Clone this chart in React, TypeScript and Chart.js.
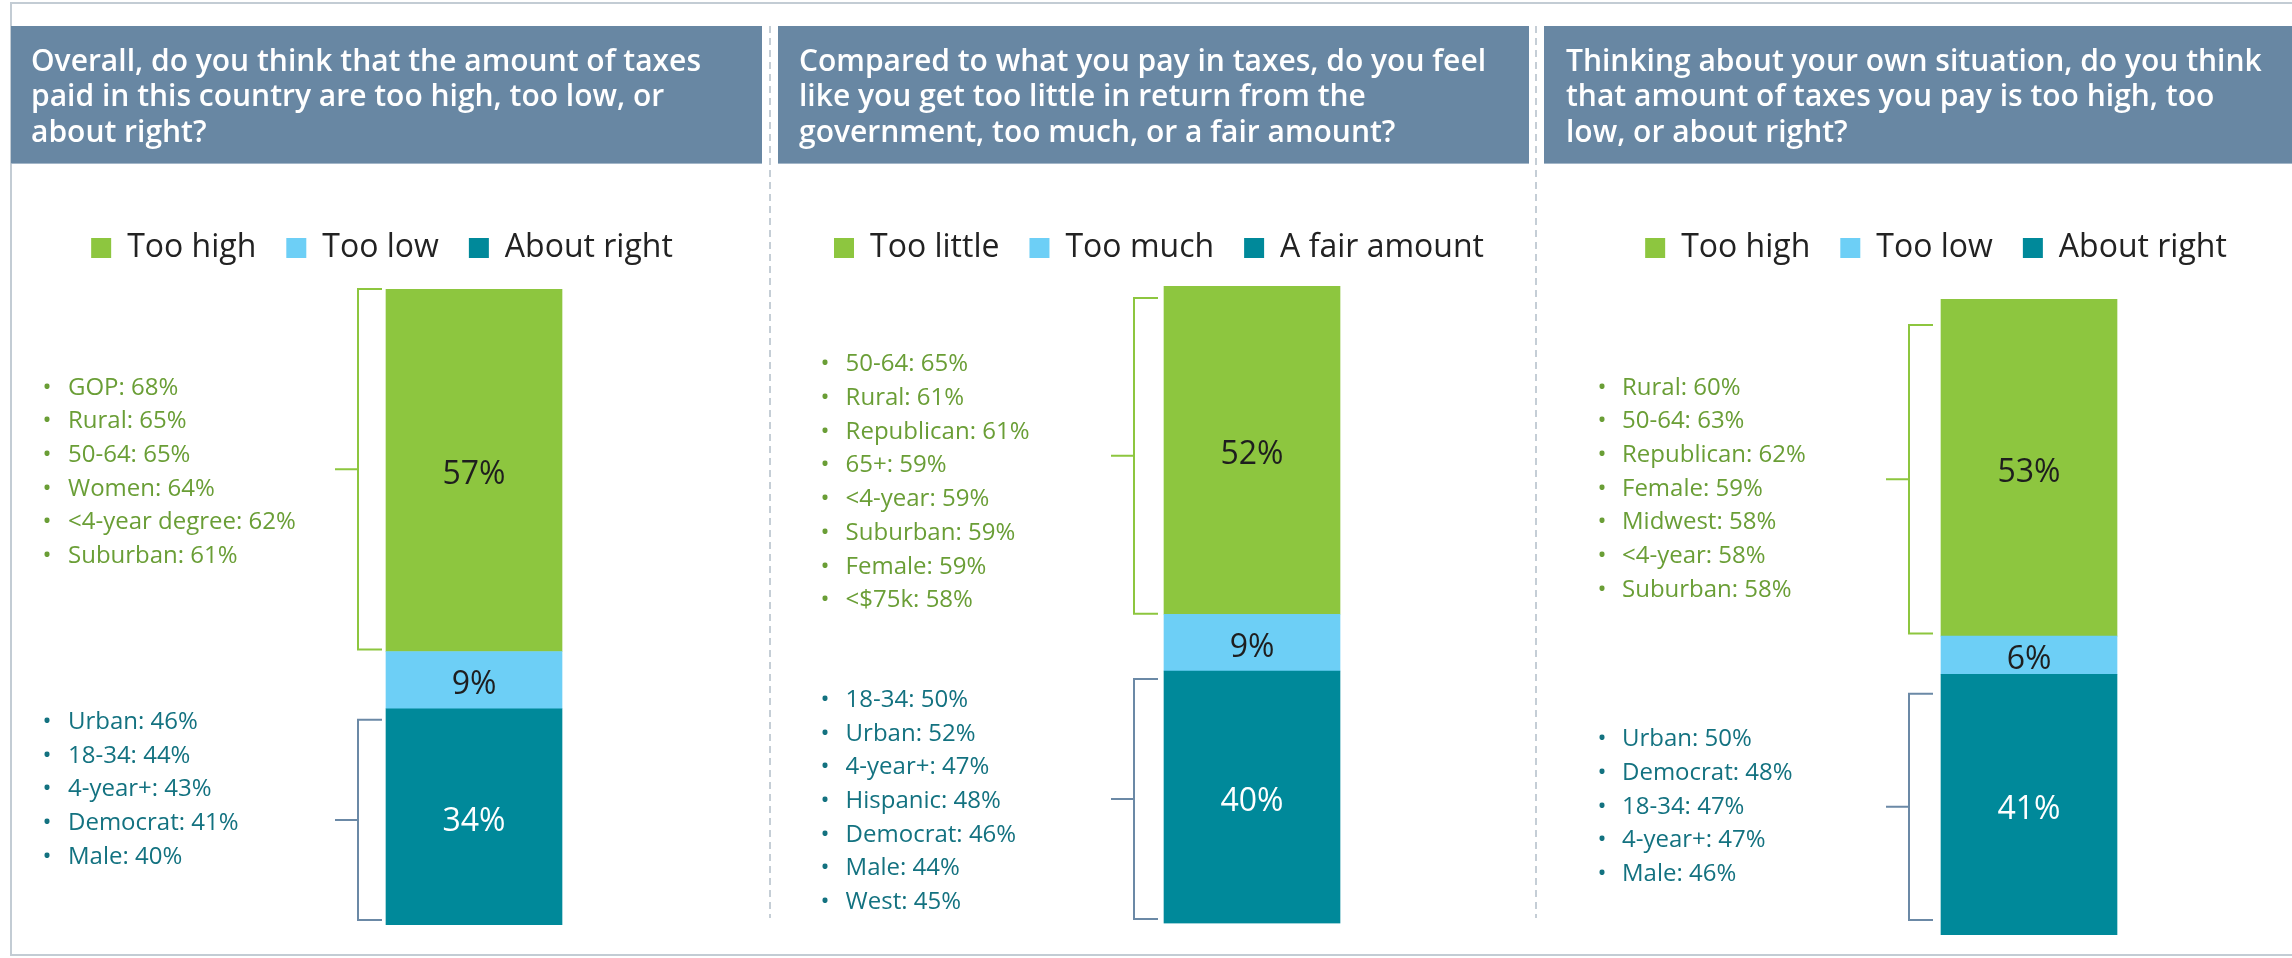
import React, { useEffect, useRef } from "react";
import { Chart, registerables } from "chart.js";

Chart.register(...registerables);

const FONT = "'Open Sans', 'Noto Sans', sans-serif";

// ---------------- Data ----------------
const question1 = [
  "Overall, do you think that the amount of taxes",
  "paid in this country are too high, too low, or",
  "about right?",
];
const series1 = ["Too high", "Too low", "About right"];
const values1 = [57, 9, 34];
const topGroups1 = ["GOP: 68%", "Rural: 65%", "50-64: 65%", "Women: 64%", "<4-year degree: 62%", "Suburban: 61%"];
const bottomGroups1 = ["Urban: 46%", "18-34: 44%", "4-year+: 43%", "Democrat: 41%", "Male: 40%"];

const question2 = [
  "Compared to what you pay in taxes, do you feel",
  "like you get too little in return from the",
  "government, too much, or a fair amount?",
];
const series2 = ["Too little", "Too much", "A fair amount"];
const values2 = [52, 9, 40];
const topGroups2 = ["50-64: 65%", "Rural: 61%", "Republican: 61%", "65+: 59%", "<4-year: 59%", "Suburban: 59%", "Female: 59%", "<$75k: 58%"];
const bottomGroups2 = ["18-34: 50%", "Urban: 52%", "4-year+: 47%", "Hispanic: 48%", "Democrat: 46%", "Male: 44%", "West: 45%"];

const question3 = [
  "Thinking about your own situation, do you think",
  "that amount of taxes you pay is too high, too",
  "low, or about right?",
];
const series3 = ["Too high", "Too low", "About right"];
const values3 = [53, 6, 41];
const topGroups3 = ["Rural: 60%", "50-64: 63%", "Republican: 62%", "Female: 59%", "Midwest: 58%", "<4-year: 58%", "Suburban: 58%"];
const bottomGroups3 = ["Urban: 50%", "Democrat: 48%", "18-34: 47%", "4-year+: 47%", "Male: 46%"];

// ---------------- Styles ----------------
const SEG_COLORS = ["#8DC63F", "#6DCFF6", "#00899A"];
const SEG_LABEL_COLORS = ["#1E1E1E", "#1E1E1E", "#FFFFFF"];
const TOP_TEXT = "#6A9E36";
const BOTTOM_TEXT = "#137280";
const TOP_BRACKET = "#8DC63F";
const BOTTOM_BRACKET = "#6B89A6";
const HEADER_BG = "#6887A3";

const CANVAS_TOP = 26;
const CANVAS_H = 927;
const HEADER_H = 138;
const HEADER_BASELINES = [45, 80.3, 115.7];

type Layout = {
  left: number; width: number;
  headerLeft: number; headerWidth: number; textPad: number;
  padL: number; padR: number; axisW: number; topGap: number; padB: number;
  bracketGap: number; topInset: [number, number]; bottomInset: [number, number];
  bulletX: number; textX: number; topListY: number; bottomListY: number;
};

// list Y positions are relative to y=164 (below header); shifted by HEADER_H in drawing
const layout1: Layout = {
  left: 11, width: 759, headerLeft: 11, headerWidth: 751, textPad: 20,
  padL: 0, padR: 17, axisW: 184, topGap: 15, padB: 28,
  bracketGap: 4, topInset: [0, 2], bottomInset: [11, 5],
  bulletX: 36, textX: 57, topListY: 222, bottomListY: 556.5,
};
const layout2: Layout = {
  left: 770, width: 766, headerLeft: 778, headerWidth: 751, textPad: 21,
  padL: 12, padR: 0, axisW: 186, topGap: 12, padB: 29.5,
  bracketGap: 6, topInset: [12, 0.5], bottomInset: [8, 4.5],
  bulletX: 55, textX: 75.6, topListY: 198.8, bottomListY: 534.4,
};
const layout3: Layout = {
  left: 1536, width: 756, headerLeft: 1544, headerWidth: 748, textPad: 22,
  padL: 44, padR: 0, axisW: 186, topGap: 25, padB: 18,
  bracketGap: 8, topInset: [26, 2.5], bottomInset: [19.4, 15],
  bulletX: 66, textX: 86, topListY: 222, bottomListY: 573.7,
};

const ROW_H = 33.7;

function drawBracket(ctx: CanvasRenderingContext2D, barLeft: number, top: number, bottom: number, gap: number, color: string) {
  const xr = barLeft - gap;
  const xv = xr - 24;
  const xm = xv - 23;
  const mid = (top + bottom) / 2;
  ctx.save();
  ctx.strokeStyle = color;
  ctx.lineWidth = 2;
  ctx.beginPath();
  ctx.moveTo(xr, top);
  ctx.lineTo(xv, top);
  ctx.lineTo(xv, bottom);
  ctx.lineTo(xr, bottom);
  ctx.moveTo(xv, mid);
  ctx.lineTo(xm, mid);
  ctx.stroke();
  ctx.restore();
}

function drawList(ctx: CanvasRenderingContext2D, items: string[], bx: number, tx: number, y0: number, color: string) {
  ctx.save();
  ctx.font = `24px ${FONT}`;
  ctx.fillStyle = color;
  ctx.textBaseline = "alphabetic";
  items.forEach((t, i) => {
    const y = y0 + i * ROW_H + 8.5;
    ctx.textAlign = "center";
    ctx.fillText("\u2022", bx, y);
    ctx.textAlign = "left";
    ctx.fillText(t, tx, y);
  });
  ctx.restore();
}

type PanelProps = {
  question: string[]; series: string[]; values: number[];
  topGroups: string[]; bottomGroups: string[]; lay: Layout;
};

function Panel({ question, series, values, topGroups, bottomGroups, lay }: PanelProps) {
  const ref = useRef<HTMLCanvasElement | null>(null);

  useEffect(() => {
    const canvas = ref.current;
    if (!canvas) return;
    const total = values.reduce((a, b) => a + b, 0);
    // stack bottom-up: last series at bottom
    const order = [2, 1, 0];
    const datasets = order.map((i) => ({
      label: series[i],
      data: [values[i]],
      backgroundColor: SEG_COLORS[i],
      borderWidth: 0,
      barThickness: 176,
      segIndex: i,
    }));

    const decor = {
      id: "decor",
      beforeDraw(chart: any) {
        const ctx: CanvasRenderingContext2D = chart.ctx;
        const hx = lay.headerLeft - lay.left;
        ctx.save();
        ctx.fillStyle = HEADER_BG;
        ctx.fillRect(hx, 0, lay.headerWidth, HEADER_H);
        ctx.fillStyle = "#A3B6C8";
        ctx.fillRect(hx, HEADER_H - 1, lay.headerWidth, 1);
        ctx.fillStyle = "#FFFFFF";
        ctx.font = `600 30px ${FONT}`;
        ctx.textAlign = "left";
        ctx.textBaseline = "alphabetic";
        question.forEach((line, i) => {
          ctx.fillText(line, hx + lay.textPad, HEADER_BASELINES[i]);
        });
        ctx.restore();
      },
      afterDatasetsDraw(chart: any) {
        const ctx: CanvasRenderingContext2D = chart.ctx;
        let barLeft = 0;
        const segs: Record<number, { top: number; bottom: number }> = {};
        chart.data.datasets.forEach((ds: any, di: number) => {
          const el: any = chart.getDatasetMeta(di).data[0];
          const p = el.getProps(["x", "y", "base", "width"], true);
          const top = Math.min(p.y, p.base);
          const bottom = Math.max(p.y, p.base);
          barLeft = p.x - p.width / 2;
          segs[ds.segIndex] = { top, bottom };
          ctx.save();
          ctx.font = `32px ${FONT}`;
          ctx.fillStyle = SEG_LABEL_COLORS[ds.segIndex];
          ctx.textAlign = "center";
          ctx.textBaseline = "alphabetic";
          ctx.fillText(`${ds.data[0]}%`, p.x, (top + bottom) / 2 + 14);
          ctx.restore();
        });
        const g = segs[0];
        const t = segs[2];
        drawBracket(ctx, barLeft, g.top + lay.topInset[0], g.bottom - lay.topInset[1], lay.bracketGap, TOP_BRACKET);
        drawBracket(ctx, barLeft, t.top + lay.bottomInset[0], t.bottom - lay.bottomInset[1], lay.bracketGap, BOTTOM_BRACKET);
        drawList(ctx, topGroups, lay.bulletX, lay.textX, lay.topListY + HEADER_H, TOP_TEXT);
        drawList(ctx, bottomGroups, lay.bulletX, lay.textX, lay.bottomListY + HEADER_H, BOTTOM_TEXT);
      },
    };

    const chart = new Chart(canvas, {
      type: "bar",
      data: { labels: [""], datasets: datasets as any },
      options: {
        animation: false,
        responsive: false,
        maintainAspectRatio: false,
        events: [],
        layout: { padding: { top: 38 + HEADER_H, left: lay.padL, right: lay.padR, bottom: lay.padB } },
        plugins: {
          tooltip: { enabled: false },
          legend: {
            display: true,
            position: "top",
            reverse: true,
            labels: {
              font: { size: 32, family: FONT },
              color: "#222222",
              boxWidth: 20,
              boxHeight: 20,
              padding: 30,
            },
          },
        },
        scales: {
          x: {
            stacked: true,
            position: "top",
            display: true,
            ticks: { display: false },
            grid: { display: false },
            border: { display: false },
            afterFit: (s: any) => { s.height = lay.topGap; },
          },
          y: {
            stacked: true,
            min: 0,
            max: total,
            display: true,
            ticks: { display: false },
            grid: { display: false },
            border: { display: false },
            afterFit: (s: any) => { s.width = lay.axisW; },
          },
        },
      } as any,
      plugins: [decor],
    });
    return () => chart.destroy();
  }, []);

  return (
    <canvas
      ref={ref}
      width={lay.width}
      height={CANVAS_H}
      style={{ position: "absolute", left: lay.left, top: CANVAS_TOP, width: lay.width, height: CANVAS_H, display: "block" }}
    />
  );
}

const dashStyle = (x: number): React.CSSProperties => ({
  position: "absolute",
  left: x,
  top: 26,
  width: 2,
  height: 892,
  background: "repeating-linear-gradient(to bottom, #C5CED6 0px, #C5CED6 7px, transparent 7px, transparent 12px)",
});

export default function App() {
  return (
    <div style={{ position: "absolute", left: 0, top: 0, width: 2292, height: 958, background: "#FFFFFF", overflow: "hidden" }}>
      <div
        style={{
          position: "absolute",
          left: 10,
          top: 2,
          width: 2300,
          height: 954,
          boxSizing: "border-box",
          borderTop: "2px solid #C3CCD4",
          borderLeft: "2px solid #C3CCD4",
          borderBottom: "2px solid #C3CCD4",
        }}
      />
      <div style={dashStyle(769)} />
      <div style={dashStyle(1535)} />
      <Panel question={question1} series={series1} values={values1} topGroups={topGroups1} bottomGroups={bottomGroups1} lay={layout1} />
      <Panel question={question2} series={series2} values={values2} topGroups={topGroups2} bottomGroups={bottomGroups2} lay={layout2} />
      <Panel question={question3} series={series3} values={values3} topGroups={topGroups3} bottomGroups={bottomGroups3} lay={layout3} />
    </div>
  );
}
